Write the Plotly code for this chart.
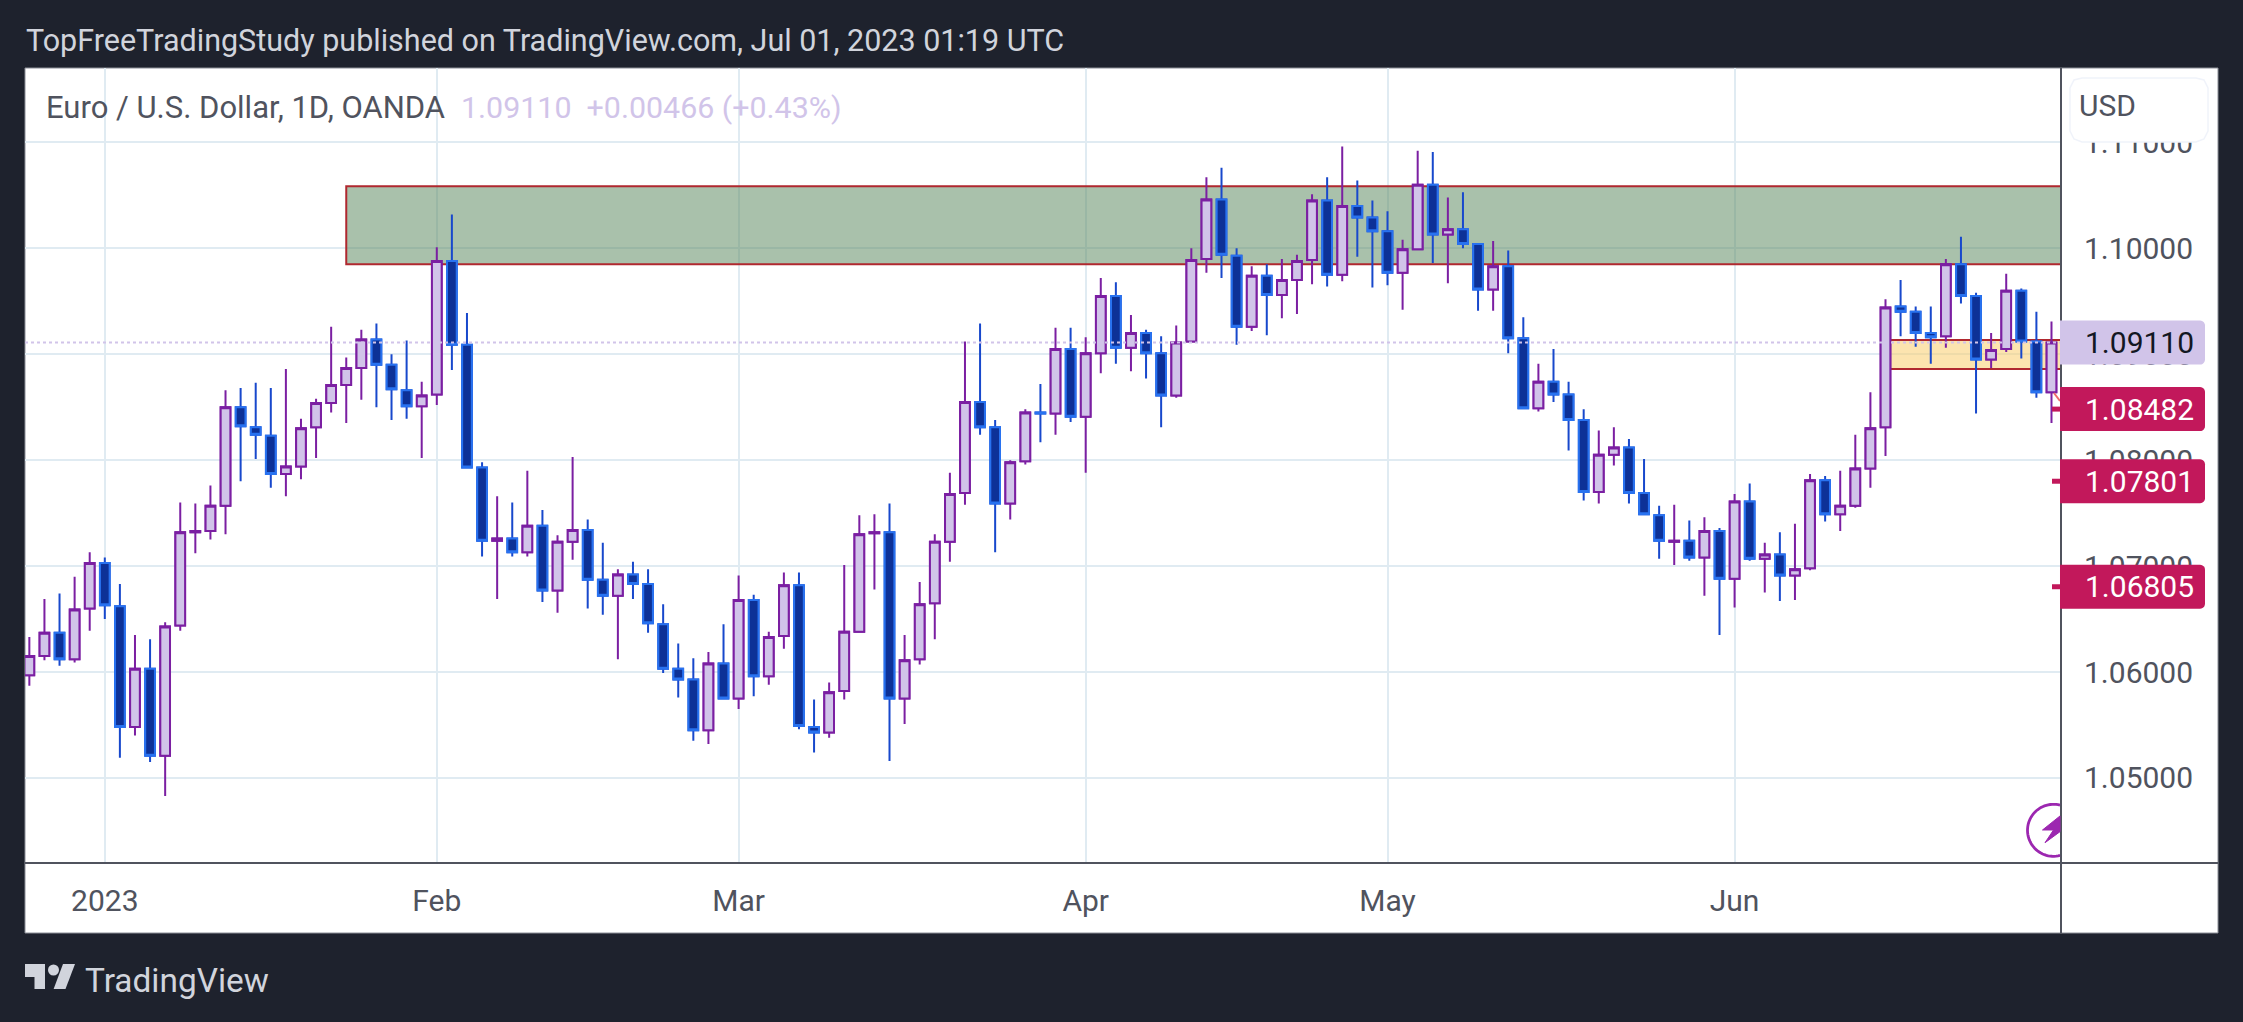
import math
import numpy as np
import pandas as pd
import plotly.graph_objects as go

# prices in points of 0.0001
open_pts = [
    10597, 10615, 10637, 10612, 10660, 10703, 10662, 10548, 10603, 10521, 10644, 10732, 10733, 10757, 10850,
    10831, 10823, 10787, 10794, 10831, 10854, 10871, 10887, 10914, 10890, 10866, 10851, 10862, 10988, 10909,
    10793, 10724, 10726, 10713, 10738, 10677, 10723, 10734, 10687, 10672, 10692, 10683, 10645, 10603, 10593,
    10545, 10608, 10575, 10668, 10596, 10634, 10682, 10548, 10543, 10582, 10638, 10731, 10732, 10575, 10612,
    10665, 10723, 10769, 10855, 10831, 10759, 10799, 10845, 10844, 10905, 10841, 10901, 10955, 10906, 10920,
    10901, 10861, 10912, 10990, 11046, 10993, 10926, 10974, 10956, 10970, 10989, 11045, 10975, 11040, 11029,
    11016, 10977, 10999, 11060, 11013, 11018, 11004, 10961, 10983, 10915, 10849, 10874, 10862, 10838, 10770,
    10805, 10812, 10769, 10748, 10723, 10724, 10708, 10733, 10688, 10761, 10707, 10711, 10691, 10698, 10781,
    10749, 10757, 10792, 10831, 10945, 10940, 10920, 10917, 10985, 10955, 10895, 10905, 10960, 10912, 10864,
]
close_pts = [
    10615, 10637, 10612, 10659, 10703, 10663, 10548, 10603, 10521, 10643, 10732, 10733, 10757, 10850, 10832,
    10824, 10787, 10794, 10830, 10854, 10871, 10887, 10914, 10890, 10867, 10851, 10861, 10988, 10909, 10793,
    10724, 10726, 10713, 10738, 10677, 10723, 10734, 10687, 10672, 10692, 10683, 10646, 10603, 10593, 10545,
    10608, 10575, 10668, 10596, 10633, 10682, 10549, 10543, 10581, 10638, 10730, 10732, 10575, 10611, 10664,
    10723, 10768, 10855, 10831, 10759, 10798, 10845, 10844, 10905, 10841, 10901, 10955, 10906, 10920, 10901,
    10861, 10911, 10989, 11046, 10994, 10926, 10974, 10956, 10970, 10988, 11045, 10975, 11040, 11029, 11016,
    10977, 10999, 11060, 11013, 11018, 11004, 10961, 10983, 10915, 10849, 10874, 10862, 10838, 10770, 10805,
    10812, 10769, 10749, 10724, 10724, 10708, 10733, 10688, 10761, 10707, 10711, 10691, 10697, 10781, 10749,
    10757, 10792, 10830, 10944, 10940, 10920, 10916, 10985, 10955, 10895, 10904, 10960, 10912, 10864, 10911,
]
high_pts = [
    10633, 10669, 10674, 10690, 10713, 10708, 10683, 10635, 10631, 10647, 10760, 10759, 10776, 10866, 10868,
    10873, 10868, 10886, 10839, 10858, 10926, 10897, 10923, 10929, 10900, 10913, 10874, 11001, 11032, 10939,
    10798, 10766, 10760, 10790, 10753, 10729, 10803, 10744, 10722, 10697, 10704, 10697, 10664, 10627, 10613,
    10619, 10645, 10691, 10673, 10638, 10694, 10694, 10574, 10590, 10701, 10748, 10749, 10759, 10635, 10685,
    10730, 10788, 10912, 10929, 10838, 10800, 10848, 10872, 10925, 10925, 10916, 10972, 10968, 10937, 10923,
    10917, 10927, 11000, 11067, 11076, 11000, 10983, 10985, 10990, 10994, 11051, 11067, 11096, 11064, 11045,
    11035, 11008, 11092, 11091, 11048, 11053, 11005, 11007, 10998, 10935, 10891, 10905, 10874, 10848, 10828,
    10831, 10820, 10801, 10757, 10758, 10743, 10746, 10736, 10768, 10778, 10722, 10732, 10740, 10787, 10785,
    10790, 10824, 10864, 10952, 10970, 10945, 10945, 10990, 11011, 10958, 10920, 10976, 10962, 10940, 10931,
]
low_pts = [
    10587, 10611, 10606, 10609, 10639, 10650, 10519, 10540, 10515, 10483, 10639, 10712, 10725, 10730, 10780,
    10801, 10774, 10766, 10782, 10802, 10845, 10835, 10857, 10850, 10838, 10839, 10802, 10852, 10885, 10793,
    10709, 10669, 10709, 10709, 10666, 10656, 10706, 10660, 10654, 10612, 10669, 10637, 10599, 10576, 10535,
    10532, 10574, 10565, 10577, 10588, 10622, 10546, 10524, 10538, 10574, 10638, 10678, 10516, 10551, 10607,
    10631, 10704, 10758, 10824, 10713, 10744, 10796, 10817, 10824, 10836, 10788, 10882, 10891, 10884, 10877,
    10831, 10859, 10911, 10977, 10972, 10909, 10922, 10918, 10934, 10938, 10966, 10964, 10969, 10992, 10963,
    10965, 10942, 10999, 10986, 10967, 11000, 10941, 10941, 10901, 10848, 10846, 10855, 10809, 10762, 10759,
    10795, 10759, 10749, 10707, 10701, 10705, 10672, 10635, 10661, 10705, 10675, 10667, 10668, 10696, 10742,
    10733, 10755, 10774, 10804, 10917, 10907, 10891, 10906, 10948, 10844, 10887, 10902, 10896, 10859, 10835,
]

bar_dates = pd.bdate_range("2022-12-26", periods=len(open_pts)).strftime("%Y-%m-%d").tolist()

month_ticks = ["2023-01-02", "2023-02-01", "2023-03-01", "2023-04-03", "2023-05-01", "2023-06-01"]
month_labels = ["2023", "Feb", "Mar", "Apr", "May", "Jun"]
price_ticks = [1.05, 1.06, 1.07, 1.08, 1.09, 1.10, 1.11]

zone_green = ["2023-01-24", 1.10585, 1.09850]
zone_orange = ["2023-06-15", 1.09135, 1.08860]

last_close = 1.09110
alert_levels = [1.08482, 1.07801, 1.06805]

WIDTH, HEIGHT = 2243, 1022
PLOT_L, PLOT_R, PLOT_T, PLOT_B = 25, 2061, 68, 863
PANEL_R, PANEL_B = 2218, 933
X_RANGE = [-0.288, 134.63]
Y_RANGE = [1.04197, 1.11702]

DARK = "#1e222d"
TEXT = "#50535e"
GRID = "#e0ebf2"
UP_FILL, UP_LINE = "#d1c4e9", "#7b1fa2"
DOWN_FILL, DOWN_BORDER, DOWN_WICK = "#0d3197", "#2872f0", "#1848cc"
RED_EDGE = "#b0282f"
CRIMSON = "#c2185b"
FONT = "Roboto"


def fx(x):
    return x / WIDTH


def fy(y):
    return 1 - y / HEIGHT


def price_y(price):
    return PLOT_T + (Y_RANGE[1] - price) / (Y_RANGE[1] - Y_RANGE[0]) * (PLOT_B - PLOT_T)


def page_path(points, close=False):
    # points are in page pixels
    d = "M" + " L".join(f"{fx(x):.5f},{fy(y):.5f}" for x, y in points)
    return d + (" Z" if close else "")


def page_shape(points, close=False, **kw):
    return dict(type="path", xref="paper", yref="paper", path=page_path(points, close), **kw)


def tag_points(yc, x0=2060, x1=2205, half=22, r=5):
    pts = [(x0, yc - half), (x1 - r, yc - half)]
    pts += [(x1 - r + r * math.sin(a / 6 * math.pi / 2), yc - half + r - r * math.cos(a / 6 * math.pi / 2)) for a in range(1, 7)]
    pts += [(x1 - r + r * math.cos(a / 6 * math.pi / 2), yc + half - r + r * math.sin(a / 6 * math.pi / 2)) for a in range(0, 7)]
    pts += [(x0, yc + half)]
    return pts


o = np.array(open_pts) / 10000
c = np.array(close_pts) / 10000
h = np.array(high_pts) / 10000
l = np.array(low_pts) / 10000

fig = go.Figure()
# wicks
fig.add_trace(go.Candlestick(
    x=bar_dates, open=o, high=h, low=l, close=c, whiskerwidth=0,
    increasing=dict(line=dict(color=UP_LINE, width=2), fillcolor=UP_FILL),
    decreasing=dict(line=dict(color=DOWN_WICK, width=2), fillcolor=DOWN_FILL),
    hoverinfo="skip",
))
# bodies again on top, the border colour differs from the wick on down bars
fig.add_trace(go.Candlestick(
    x=bar_dates, open=o, high=np.maximum(o, c), low=np.minimum(o, c), close=c, whiskerwidth=0,
    increasing=dict(line=dict(color=UP_LINE, width=2), fillcolor=UP_FILL),
    decreasing=dict(line=dict(color=DOWN_BORDER, width=2), fillcolor=DOWN_FILL),
    hoverinfo="skip",
))

shapes = [
    # white chart panel
    dict(type="rect", xref="paper", yref="paper", layer="below",
         x0=fx(25), x1=fx(PANEL_R), y0=fy(PANEL_B), y1=fy(PLOT_T),
         fillcolor="white", line=dict(color="#8b8e97", width=1)),
    # drawn zones, over the grid but under the candles
    dict(type="rect", xref="x", yref="y", layer="between",
         x0=zone_green[0], x1=X_RANGE[1], y0=zone_green[2], y1=zone_green[1],
         fillcolor="rgba(83,131,87,0.5)", line=dict(color=RED_EDGE, width=2)),
    dict(type="rect", xref="x", yref="y", layer="between",
         x0=zone_orange[0], x1=X_RANGE[1], y0=zone_orange[2], y1=zone_orange[1],
         fillcolor="rgba(250,205,110,0.55)", line=dict(color=RED_EDGE, width=2)),
    # last price line
    dict(type="line", xref="paper", yref="y", layer="above",
         x0=fx(PLOT_L), x1=fx(PLOT_R), y0=last_close, y1=last_close,
         line=dict(color=UP_FILL, width=2, dash="dot")),
    # axis borders
    page_shape([(PLOT_L, PLOT_B), (PANEL_R, PLOT_B)], line=dict(color=TEXT, width=2), layer="above"),
    page_shape([(PLOT_R, PLOT_T), (PLOT_R, PANEL_B)], line=dict(color=TEXT, width=2), layer="above"),
    # bit of a drawn line peeking out near the last bar
    page_shape([(2054, 393), (2060, 401)], line=dict(color="#ef6a6a", width=2), layer="above"),
]

# currency box over the scale
shapes.append(page_shape(
    [(2082, 78), (2196, 78), (2204, 80), (2208, 88), (2208, 131), (2204, 139), (2196, 142),
     (2082, 142), (2074, 139), (2070, 131), (2070, 88), (2074, 80)],
    close=True, fillcolor="white", line=dict(color="#f0f3fa", width=1.5), layer="above"))

# price tags
shapes.append(page_shape(tag_points(price_y(last_close)), close=True,
                         fillcolor=UP_FILL, line=dict(width=0), layer="above"))
for level in alert_levels:
    yc = price_y(level)
    shapes.append(page_shape([(2052, yc), (2061, yc)], line=dict(color=CRIMSON, width=5), layer="above"))
    shapes.append(page_shape(tag_points(yc), close=True, fillcolor=CRIMSON, line=dict(width=0), layer="above"))

# lightning badge, cut off by the price scale
cx, cy, rad = 2053.5, 830.3, 26
start = math.asin(6.5 / rad)
steps = [-start + a / 48 * (math.pi + 2 * start) for a in range(49)]
arc = [(cx - rad * math.sin(p), cy - rad * math.cos(p)) for p in steps]
shapes.append(page_shape(arc, line=dict(color="#9c27b0", width=2.8), layer="above"))
shapes.append(page_shape([(2060, 816), (2042.5, 830), (2053.5, 830), (2045, 842.7), (2060, 831.7)],
                         close=True, fillcolor="#9c27b0", line=dict(color="#9c27b0", width=1), layer="above"))

# TradingView logo
logo = dict(fillcolor="#d1d4dc", line=dict(width=0), layer="above")
shapes.append(page_shape([(25, 964), (45, 964), (45, 989), (34.5, 989), (34.5, 977), (25, 977)], close=True, **logo))
shapes.append(page_shape([(63, 964), (75, 964), (65.5, 989), (53.6, 989)], close=True, **logo))
shapes.append(dict(type="circle", xref="paper", yref="paper", x0=fx(48), x1=fx(59), y0=fy(975.5), y1=fy(964.5),
                   fillcolor="#d1d4dc", line=dict(width=0), layer="above"))


def page_text(x, y, text, size, color, anchor="left"):
    return dict(xref="paper", yref="paper", x=fx(x), y=fy(y), text=text, showarrow=False,
                xanchor=anchor, yanchor="middle", font=dict(family=FONT, size=size, color=color))


annotations = [
    page_text(24, 40, "TopFreeTradingStudy published on TradingView.com, Jul 01, 2023 01:19 UTC", 30.5, "#d1d4dc"),
    page_text(44, 107, "Euro / U.S. Dollar, 1D, OANDA", 31, TEXT),
    page_text(459, 107, "1.09110  +0.00466 (+0.43%)", 30.4, UP_FILL),
    page_text(2077, 106, "USD", 30, TEXT),
    page_text(83, 980, "TradingView", 33.4, "#d1d4dc"),
    page_text(2083, price_y(last_close), f"{last_close:.5f}", 30, "#131722"),
]
for level in alert_levels:
    annotations.append(page_text(2083, price_y(level), f"{level:.5f}", 30, "white"))

fig.update_layout(
    width=WIDTH, height=HEIGHT, margin=dict(l=0, r=0, t=0, b=0),
    paper_bgcolor=DARK, plot_bgcolor="rgba(0,0,0,0)",
    showlegend=False, boxgap=0.357, boxgroupgap=0, boxmode="overlay",
    shapes=shapes, annotations=annotations,
    xaxis=dict(
        type="category", domain=[fx(PLOT_L), fx(PLOT_R)], range=X_RANGE, rangeslider=dict(visible=False),
        tickmode="array", tickvals=month_ticks, ticktext=month_labels, tickangle=0,
        showgrid=True, gridcolor=GRID, gridwidth=2, zeroline=False, ticks="",
        tickfont=dict(family=FONT, size=30, color=TEXT), ticklabelstandoff=17,
    ),
    yaxis=dict(
        side="right", domain=[fy(PLOT_B), fy(PLOT_T)], range=Y_RANGE,
        tickmode="array", tickvals=price_ticks, tickformat=".5f",
        showgrid=True, gridcolor=GRID, gridwidth=2, zeroline=False, ticks="",
        tickfont=dict(family=FONT, size=30, color=TEXT), ticklabelstandoff=22,
    ),
)

fig.write_html("out.html", config=dict(displayModeBar=False),
               post_script="document.body.style.margin='0';document.body.style.overflow='hidden';")
